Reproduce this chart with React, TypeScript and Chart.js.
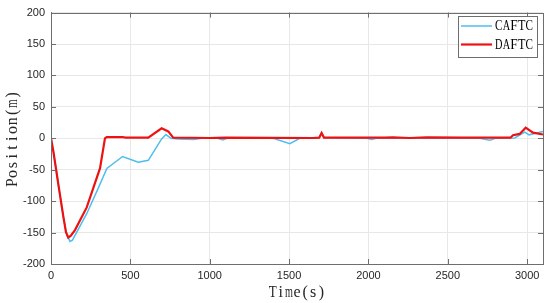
import React, { useEffect, useRef } from 'react';
import { Chart, registerables } from 'chart.js';

Chart.register(...registerables);

const seriesNames = ['CAFTC', 'DAFTC'];
const seriesColors = ['rgb(77,190,238)', '#ee1111'];
const seriesWidths = [1.5, 2.2];

const caftcTime = [0, 15, 46, 78, 99, 120, 135, 225, 300, 352, 451, 550, 613, 697, 724, 756, 800, 900, 950, 1050, 1083, 1110, 1400, 1505, 1568, 1690, 1705, 1720, 1990, 2020, 2050, 2700, 2765, 2800, 2922, 2985, 3012, 3100];
const caftcPos = [0, -21, -73, -125, -154, -164, -162, -120, -78, -48, -29, -38, -35, -1, 6, 0, -1, -2, 0, 0, -2.5, 0, 0, -8.5, 0, 1, 8.5, 1, 0, -2, 0, 0, -3, 0, 0.5, 10, 5.5, 11];

const daftcTime = [0, 15, 46, 78, 94, 109, 125, 151, 225, 309, 340, 351, 450, 470, 613, 697, 739, 770, 1000, 1100, 1650, 1690, 1705, 1720, 2100, 2154, 2261, 2366, 2600, 2895, 2911, 2953, 2991, 3037, 3100];
const daftcPos = [0, -21, -73, -125, -149, -158, -155, -146, -110, -47.5, 0, 2, 2, 1, 1, 16, 11, 1, 0.5, 1, 0.5, 1, 8.5, 1, 1, 1.5, 0.5, 1.5, 1, 1, 5, 7, 17, 9, 6];

const xTicks = [0, 500, 1000, 1500, 2000, 2500, 3000];
const yTicks = [-200, -150, -100, -50, 0, 50, 100, 150, 200];
const xTitle = 'Time(s)';
const yTitle = 'Position(m)';

const AXIS_COLOR = '#6e6e6e';
const TEXT_COLOR = '#262626';

function drawMono(ctx: CanvasRenderingContext2D, text: string, cx: number, cy: number, cell: number, font: string) {
  ctx.save();
  ctx.font = font;
  ctx.textBaseline = 'middle';
  ctx.textAlign = 'center';
  const total = cell * text.length;
  let x = cx - total / 2 + cell / 2;
  for (const ch of text) {
    const w = ctx.measureText(ch).width;
    const maxW = cell * 0.98;
    ctx.save();
    ctx.translate(x, cy);
    if (w > maxW) ctx.scale(maxW / w, 1);
    ctx.fillText(ch, 0, 0);
    ctx.restore();
    x += cell;
  }
  ctx.restore();
}

function drawMonoLeft(ctx: CanvasRenderingContext2D, text: string, left: number, cy: number, cell: number, font: string) {
  drawMono(ctx, text, left + (cell * text.length) / 2, cy, cell, font);
}

const decorPlugin = {
  id: 'decor',
  beforeDraw(chart: any) {
    const ctx = chart.ctx;
    ctx.save();
    ctx.fillStyle = '#ffffff';
    ctx.fillRect(0, 0, chart.width, chart.height);
    ctx.restore();
  },
  afterDraw(chart: any) {
    const ctx: CanvasRenderingContext2D = chart.ctx;
    const a = chart.chartArea;
    const xs = chart.scales.x;
    const ys = chart.scales.y;
    ctx.save();
    ctx.strokeStyle = AXIS_COLOR;
    ctx.lineWidth = 1;
    ctx.strokeRect(Math.round(a.left) + 0.5, Math.round(a.top) + 0.5, Math.round(a.right - a.left), Math.round(a.bottom - a.top));
    const tl = 5;
    ctx.beginPath();
    for (const v of xTicks) {
      const px = Math.round(xs.getPixelForValue(v)) + 0.5;
      ctx.moveTo(px, a.bottom);
      ctx.lineTo(px, a.bottom - tl);
      ctx.moveTo(px, a.top);
      ctx.lineTo(px, a.top + tl);
    }
    for (const v of yTicks) {
      const py = Math.round(ys.getPixelForValue(v)) + 0.5;
      ctx.moveTo(a.left, py);
      ctx.lineTo(a.left + tl, py);
      ctx.moveTo(a.right, py);
      ctx.lineTo(a.right - tl, py);
    }
    ctx.stroke();

    const lx = 458, ly = 16, lw = 79, lh = 41;
    ctx.fillStyle = '#ffffff';
    ctx.fillRect(lx, ly, lw, lh);
    ctx.strokeStyle = AXIS_COLOR;
    ctx.strokeRect(lx + 0.5, ly + 0.5, lw, lh);
    const rows = [26, 44.5];
    chart.data.datasets.forEach((ds: any, i: number) => {
      const y = rows[i];
      ctx.strokeStyle = ds.borderColor;
      ctx.lineWidth = ds.borderWidth;
      ctx.beginPath();
      ctx.moveTo(461, y);
      ctx.lineTo(492, y);
      ctx.stroke();
      ctx.fillStyle = '#000000';
      drawMonoLeft(ctx, ds.label, 495, y + 0.5, 7.6, '15px "Liberation Serif"');
    });

    ctx.fillStyle = TEXT_COLOR;
    drawMono(ctx, xTitle, (a.left + a.right) / 2, 293, 8.1, '16px "Liberation Serif"');
    ctx.save();
    ctx.translate(13, (a.top + a.bottom) / 2 + 0.5);
    ctx.rotate(-Math.PI / 2);
    drawMono(ctx, yTitle, 0, 0, 8.8, '16px "Liberation Serif"');
    ctx.restore();
    ctx.restore();
  },
};

export default function App() {
  const ref = useRef<HTMLCanvasElement | null>(null);
  useEffect(() => {
    if (!ref.current) return;
    const mk = (t: number[], v: number[]) => t.map((x, i) => ({ x, y: v[i] }));
    const chart = new Chart(ref.current, {
      type: 'line',
      data: {
        datasets: [
          {
            label: seriesNames[0],
            data: mk(caftcTime, caftcPos),
            borderColor: seriesColors[0],
            backgroundColor: seriesColors[0],
            borderWidth: seriesWidths[0],
            pointRadius: 0,
            tension: 0,
            order: 2,
          },
          {
            label: seriesNames[1],
            data: mk(daftcTime, daftcPos),
            borderColor: seriesColors[1],
            backgroundColor: seriesColors[1],
            borderWidth: seriesWidths[1],
            pointRadius: 0,
            tension: 0,
            order: 1,
          },
        ],
      },
      options: {
        responsive: false,
        animation: false,
        devicePixelRatio: 1,
        layout: { padding: { top: 8, right: 7, left: 0, bottom: 0 } },
        plugins: {
          legend: { display: false },
          tooltip: { enabled: false },
        },
        scales: {
          x: {
            type: 'linear',
            min: 0,
            max: 3100,
            afterBuildTicks: (s: any) => {
              s.ticks = xTicks.map((v) => ({ value: v }));
            },
            afterFit: (s: any) => {
              s.height = 39;
            },
            ticks: {
              color: TEXT_COLOR,
              font: { family: '"Liberation Sans", Arial', size: 11 },
              padding: 5,
              maxRotation: 0,
              callback: (v: any) => String(v),
            },
            grid: { color: '#e8e8e8', drawTicks: false },
            border: { display: true, color: AXIS_COLOR },
          },
          y: {
            type: 'linear',
            min: -200,
            max: 200,
            afterBuildTicks: (s: any) => {
              s.ticks = yTicks.map((v) => ({ value: v }));
            },
            afterFit: (s: any) => {
              s.width = 51;
            },
            ticks: {
              color: TEXT_COLOR,
              font: { family: '"Liberation Sans", Arial', size: 11 },
              padding: 6,
              callback: (v: any) => String(v),
            },
            grid: { color: '#e8e8e8', drawTicks: false },
            border: { display: true, color: AXIS_COLOR },
          },
        },
      },
      plugins: [decorPlugin],
    });
    return () => chart.destroy();
  }, []);
  return (
    <div style={{ position: 'fixed', left: 0, top: 0, width: 550, height: 303 }}>
      <canvas ref={ref} width={550} height={303} style={{ width: 550, height: 303, display: 'block' }} />
    </div>
  );
}
